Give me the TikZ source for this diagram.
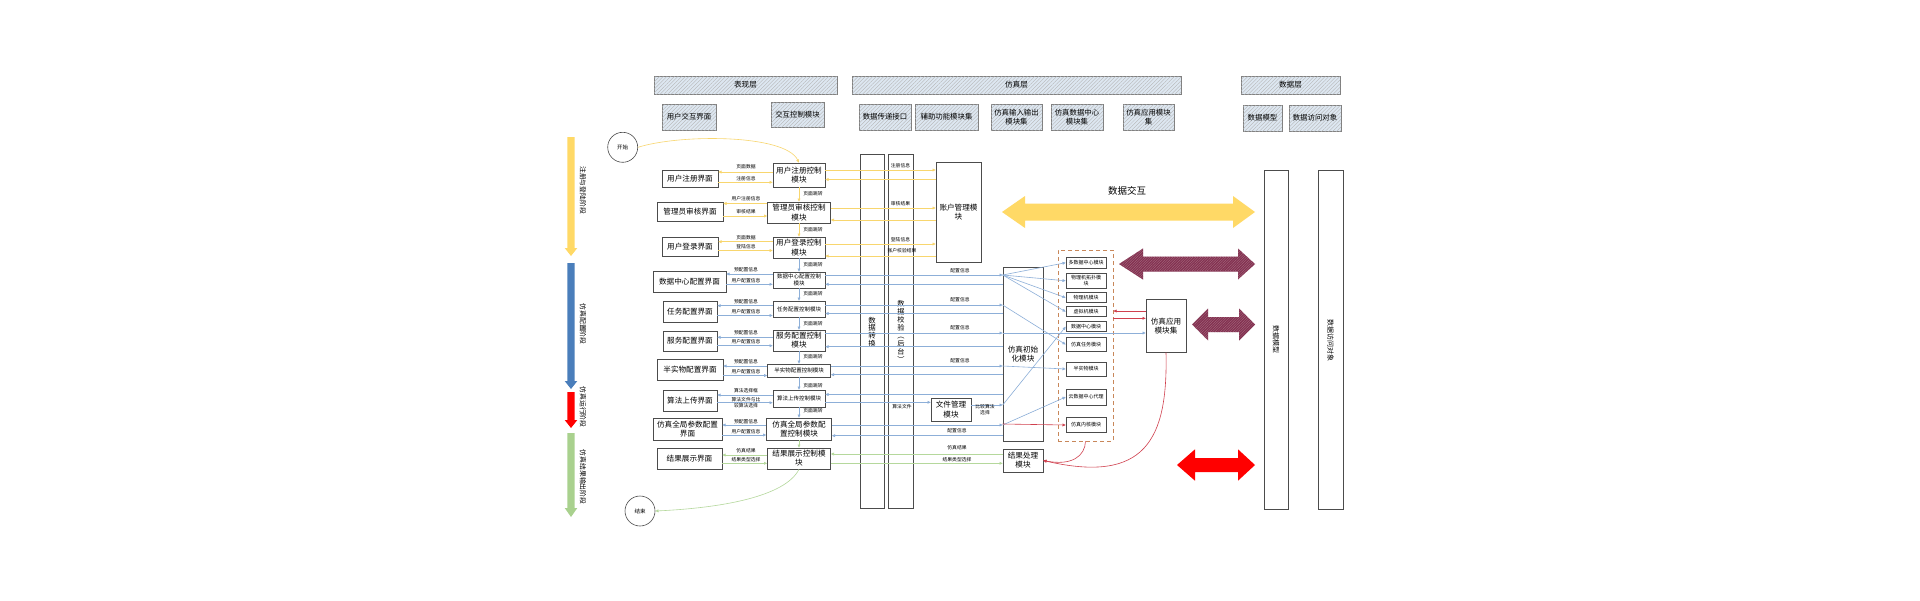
\documentclass[tikz,border=0pt]{standalone}
\usepackage{fontspec}
\setmainfont{Noto Sans CJK SC}
\usetikzlibrary{arrows.meta,patterns.meta}
\definecolor{ylc}{HTML}{FFD966}
\definecolor{yline}{HTML}{F8D66E}
\definecolor{bline}{HTML}{8DAFD8}
\definecolor{gline}{HTML}{B5D89C}
\definecolor{rline}{HTML}{D0404E}
\definecolor{marc}{HTML}{833150}
\definecolor{hdrc}{HTML}{DDE7F1}
\definecolor{dashc}{HTML}{C8875A}
\definecolor{stblue}{HTML}{4A7EBB}
\definecolor{stred}{HTML}{FF0000}
\definecolor{stgreen}{HTML}{A9D18E}
\tikzset{
  every node/.style={inner sep=0pt, align=center, font=\fontsize{7.6}{9.2}\selectfont},
  bx/.style={draw=black!70, line width=0.6pt, fill=white},
  hdr/.style={draw=black!50, line width=0.6pt, fill=hdrc,
     postaction={pattern={Lines[angle=45,distance=2.6pt,line width=0.35pt]}, pattern color=black!30}},
  lbl/.style={font=\fontsize{4.8}{6}\selectfont},
  sm/.style={font=\fontsize{5.5}{6.8}\selectfont},
  inner/.style={bx, minimum width=40, font=\fontsize{5}{6}\selectfont},
  stlbl/.style={rotate=-90, font=\fontsize{6.8}{8}\selectfont},
  yc/.style={draw=yline, line width=0.6pt},
  bc/.style={draw=bline, line width=0.6pt},
  gc/.style={draw=gline, line width=0.6pt},
  rc/.style={draw=rline, line width=0.6pt},
  arr/.style={-{Triangle[length=3.2pt,width=2.8pt]}},
  marfill/.style={fill=marc, postaction={pattern={Lines[angle=45,distance=1.8pt,line width=0.35pt]}, pattern color=marc!70!white}},
}
\begin{document}
\begin{tikzpicture}[x=1pt,y=-1pt]
\useasboundingbox (0,0) rectangle (1920,600);
\fill[white] (0,0) rectangle (1920,600);

% ---- layer headers
\node[hdr, minimum width=183, minimum height=18] (h1) at (745.5,85) {表现层};
\node[hdr, minimum width=329, minimum height=18] (h2) at (1016.5,85) {仿真层};
\node[hdr, minimum width=99, minimum height=18] (h3) at (1290.5,85) {数据层};

% ---- column headers
\begin{scope}[every node/.append style={font=\fontsize{7.4}{9}\selectfont}]
\node[hdr, minimum width=54, minimum height=26] (ch1) at (689,117) {用户交互界面};
\node[hdr, minimum width=53, minimum height=25] (ch2) at (797.5,114.5) {交互控制模块};
\node[hdr, minimum width=52, minimum height=26] (ch3) at (885,117) {数据传递接口};
\node[hdr, minimum width=63, minimum height=26] (ch4) at (946.5,117) {辅助功能模块集};
\node[hdr, minimum width=51, minimum height=26] (ch5) at (1016.5,117) {仿真输入输出\\模块集};
\node[hdr, minimum width=52, minimum height=26] (ch6) at (1077,117) {仿真数据中心\\模块集};
\node[hdr, minimum width=51, minimum height=26] (ch7) at (1148.5,117) {仿真应用模块\\集};
\node[hdr, minimum width=39, minimum height=26] (ch8) at (1262.5,118) {数据模型};
\node[hdr, minimum width=52, minimum height=26] (ch9) at (1315,118) {数据访问对象};
\end{scope}

% ---- stage arrows
\fill[ylc] (567.3,137) -- (574.7,137) -- (574.7,248) -- (577.3,248) -- (571,256) -- (564.7,248) -- (567.3,248) -- cycle;
\fill[stblue] (567.3,263) -- (574.7,263) -- (574.7,381) -- (577.3,381) -- (571,389) -- (564.7,381) -- (567.3,381) -- cycle;
\fill[stred] (567.3,392) -- (574.7,392) -- (574.7,420) -- (577.3,420) -- (571,428) -- (564.7,420) -- (567.3,420) -- cycle;
\fill[stgreen] (567.3,433) -- (574.7,433) -- (574.7,508) -- (577.3,508) -- (571,517) -- (564.7,508) -- (567.3,508) -- cycle;
\node[stlbl] (s1) at (583,190) {注册与登陆阶段};
\node[stlbl] (s2) at (583,324) {仿真配置阶段};
\node[stlbl] (s3) at (583,407) {仿真运行阶段};
\node[stlbl] (s4) at (583,477) {仿真结果输出阶段};

% ---- start / end
\node[draw=black!70, line width=0.6pt, circle, minimum size=30, font=\fontsize{5.5}{6.6}\selectfont] (start) at (622.7,147.3) {开始};
\node[draw=black!70, line width=0.6pt, circle, minimum size=30, font=\fontsize{5.5}{6.6}\selectfont] (end) at (640,511) {结束};

% ---- interface boxes
\node[bx, minimum width=56, minimum height=17] (u1) at (690,178.5) {用户注册界面};
\node[bx, minimum width=66, minimum height=19] (u2) at (690,211.5) {管理员审核界面};
\node[bx, minimum width=56, minimum height=19] (u3) at (690,246.5) {用户登录界面};
\node[bx, minimum width=73, minimum height=21] (u4) at (689.5,282) {数据中心配置界面};
\node[bx, minimum width=54, minimum height=21] (u5) at (690,311.5) {任务配置界面};
\node[bx, minimum width=54, minimum height=20] (u6) at (690,341) {服务配置界面};
\node[bx, minimum width=66, minimum height=21] (u7) at (690,369.5) {半实物配置界面};
\node[bx, minimum width=54, minimum height=21] (u8) at (690,400.5) {算法上传界面};
\node[bx, minimum width=69, minimum height=22] (u9) at (687.5,429) {仿真全局参数配置\\界面};
\node[bx, minimum width=65, minimum height=21] (u10) at (689.5,458.5) {结果展示界面};

% ---- control modules
\node[bx, minimum width=52, minimum height=24] (c1) at (799,175) {用户注册控制\\模块};
\node[bx, minimum width=63, minimum height=21] (c2) at (799,212.5) {管理员审核控制\\模块};
\node[bx, minimum width=52, minimum height=21] (c3) at (799,247.5) {用户登录控制\\模块};
\node[bx, sm, minimum width=52, minimum height=16] (c4) at (799,280) {数据中心配置控制\\模块};
\node[bx, sm, minimum width=52, minimum height=16] (c5) at (799,309) {任务配置控制模块};
\node[bx, minimum width=52, minimum height=21] (c6) at (799,340.5) {服务配置控制\\模块};
\node[bx, sm, minimum width=63, minimum height=13] (c7) at (799,370.5) {半实物配置控制模块};
\node[bx, sm, minimum width=52, minimum height=17] (c8) at (799,398.5) {算法上传控制模块};
\node[bx, minimum width=65, minimum height=22] (c9) at (799,429) {仿真全局参数配\\置控制模块};
\node[bx, minimum width=63, minimum height=21] (c10) at (799,458.5) {结果展示控制模\\块};

% ---- data transfer columns
\node[bx, minimum width=24, minimum height=354] (col1) at (872,331) {};
\node[bx, minimum width=25, minimum height=354] (col2) at (900.5,331) {};
\node[font=\fontsize{7.4}{7.8}\selectfont] (col1t) at (872,332) {数\\据\\转\\换};
\node[font=\fontsize{7.2}{8}\selectfont] (col2t) at (901,331) {数\\据\\校\\验\\︵\\后\\台\\︶};

% ---- simulation layer boxes
\node[bx, minimum width=45, minimum height=100] (acc) at (958.5,212) {账户管理模\\块};
\node[bx, minimum width=40, minimum height=23] (file) at (951,409.5) {文件管理\\模块};
\node[bx, minimum width=40, minimum height=174] (init) at (1023,354) {仿真初始\\化模块};
\node[bx, minimum width=40, minimum height=23] (res) at (1023,460.5) {结果处理\\模块};
\node[draw=dashc, line width=0.7pt, dash pattern=on 4pt off 3pt, minimum width=55, minimum height=191] (dbox) at (1085.5,345.5) {};
\node[inner, minimum height=11] (m1) at (1086,262.7) {多数据中心模块};
\node[inner, minimum height=15] (m2) at (1086,280.8) {物理机拓扑模\\块};
\node[inner, minimum height=10] (m3) at (1086,297.7) {物理机模块};
\node[inner, minimum height=10] (m4) at (1086,311.7) {虚拟机模块};
\node[inner, minimum height=10] (m5) at (1086,326.7) {数据中心模块};
\node[inner, minimum height=14] (m6) at (1086,344.5) {仿真任务模块};
\node[inner, minimum height=14] (m7) at (1086,369) {半实物模块};
\node[inner, minimum height=16] (m8) at (1086,397) {云数据中心代理};
\node[inner, minimum height=15] (m9) at (1086,425) {仿真内核模块};
\node[bx, minimum width=40, minimum height=53] (app) at (1166,325.7) {仿真应用\\模块集};

% ---- data layer columns
\node[bx, minimum width=24, minimum height=339] (dm) at (1276,339.5) {};
\node[bx, minimum width=25, minimum height=339] (dao) at (1330.5,339.5) {};
\node[rotate=-90, font=\fontsize{7}{8}\selectfont] (dmt) at (1276,339) {数据模型};
\node[rotate=-90, font=\fontsize{7}{8}\selectfont] (daot) at (1330.5,340) {数据访问对象};

% ---- big arrows
\fill[ylc] (1002,212) -- (1025,196) -- (1025,203.5) -- (1233,203.5) -- (1233,196) -- (1255,212) -- (1233,228) -- (1233,220.5) -- (1025,220.5) -- (1025,228) -- cycle;
\node[font=\fontsize{9.5}{11}\selectfont] (dx) at (1127,191) {数据交互};
\path[marfill] (1119,264) -- (1143,248.5) -- (1143,256.5) -- (1238,256.5) -- (1238,248.5) -- (1255,264) -- (1238,279.5) -- (1238,271.5) -- (1143,271.5) -- (1143,279.5) -- cycle;
\path[marfill] (1192,324.5) -- (1208,308.5) -- (1208,317) -- (1239,317) -- (1239,308.5) -- (1255,324.5) -- (1239,340.5) -- (1239,332) -- (1208,332) -- (1208,340.5) -- cycle;
\fill[stred] (1177,465) -- (1195,449.3) -- (1195,458) -- (1238,458) -- (1238,449.3) -- (1255,465) -- (1238,480.7) -- (1238,472) -- (1195,472) -- (1195,480.7) -- cycle;

% ---- start/end curves
\draw[yc, arr] (start.east) .. controls (680,134) and (785,134) .. (c1.north);
\draw[gc, arr] (c10.south) .. controls (785,497) and (720,508) .. (end.east);

% ---- vertical page jumps
\draw[yc, arr] (c1.south) -- (c2.north);
\draw[yc, arr] (c2.south) -- (c3.north);
\draw[bc, arr] (c3.south) -- (c4.north);
\draw[bc, arr] (c4.south) -- (c5.north);
\draw[bc, arr] (c5.south) -- (c6.north);
\draw[bc, arr] (c6.south) -- (c7.north);
\draw[bc, arr] (c7.south) -- (c8.north);
\draw[bc, arr] (c8.south) -- (c9.north);
\draw[gc, arr] (c9.south) -- (c10.north);
\begin{scope}[every node/.append style={lbl}]
\node (j1) at (813,193.3) {页面跳转};
\node (j2) at (813,230) {页面跳转};
\node (j3) at (813,265) {页面跳转};
\node (j4) at (813,293.3) {页面跳转};
\node (j5) at (813,324) {页面跳转};
\node (j6) at (813,356.7) {页面跳转};
\node (j7) at (813,386) {页面跳转};
\node (j8) at (813,410.7) {页面跳转};
\end{scope}

% ---- interface <-> control
\draw[yc, arr] (c1.west |- 0,172) -- (u1.east |- 0,172);
\draw[yc, arr] (u1.east |- 0,182.3) -- (c1.west |- 0,182.3);
\draw[yc, arr] (c2.west |- 0,203.5) -- (u2.east |- 0,203.5);
\draw[yc, arr] (u2.east |- 0,216) -- (c2.west |- 0,216);
\draw[yc, arr] (c3.west |- 0,241.7) -- (u3.east |- 0,241.7);
\draw[yc, arr] (u3.east |- 0,250.5) -- (c3.west |- 0,250.5);
\draw[bc, arr] (c4.west |- 0,274) -- (u4.east |- 0,274);
\draw[bc, arr] (u4.east |- 0,284.3) -- (c4.west |- 0,284.3);
\draw[bc, arr] (c5.west |- 0,305.7) -- (u5.east |- 0,305.7);
\draw[bc, arr] (u5.east |- 0,315.5) -- (c5.west |- 0,315.5);
\draw[bc, arr] (c6.west |- 0,337.3) -- (u6.east |- 0,337.3);
\draw[bc, arr] (u6.east |- 0,345.7) -- (c6.west |- 0,345.7);
\draw[bc, arr] (c7.west |- 0,366) -- (u7.east |- 0,366);
\draw[bc, arr] (u7.east |- 0,375.5) -- (c7.west |- 0,375.5);
\draw[bc, arr] (c8.west |- 0,395) -- (u8.east |- 0,395);
\draw[bc, arr] (u8.east |- 0,402.7) -- (c8.west |- 0,402.7);
\draw[bc, arr] (c9.west |- 0,425) -- (u9.east |- 0,425);
\draw[bc, arr] (u9.east |- 0,435) -- (c9.west |- 0,435);
\draw[gc, arr] (c10.west |- 0,455) -- (u10.east |- 0,455);
\draw[gc, arr] (u10.east |- 0,463.3) -- (c10.west |- 0,463.3);
\begin{scope}[every node/.append style={lbl}]
\node (a1) at (746,166.5) {页面数据};
\node (a2) at (746,178.5) {注册信息};
\node (a3) at (746,199) {用户注册信息};
\node (a4) at (746,211.7) {审核结果};
\node (a5) at (746,237.5) {页面数据};
\node (a6) at (746,246.8) {登陆信息};
\node (a7) at (746,270) {预配置信息};
\node (a8) at (746,280.5) {用户配置信息};
\node (a9) at (746,301.5) {预配置信息};
\node (a10) at (746,311.5) {用户配置信息};
\node (a11) at (746,333) {预配置信息};
\node (a12) at (746,341.8) {用户配置信息};
\node (a13) at (746,362) {预配置信息};
\node (a14) at (746,371.5) {用户配置信息};
\node (a15) at (746,391) {算法选择框};
\node (a16) at (746,402.6) {算法文件与比\\较算法选择};
\node (a17) at (746,421.3) {预配置信息};
\node (a18) at (746,431.3) {用户配置信息};
\node (a19) at (746,451) {仿真结果};
\node (a20) at (746,459.8) {结果类型选择};
\end{scope}

% ---- control -> right side
\draw[yc, arr] (c1.east |- 0,170) -- (acc.west |- 0,170);
\draw[yc, arr] (acc.west |- 0,179.5) -- (c1.east |- 0,179.5);
\draw[yc, arr] (c2.east |- 0,208) -- (acc.west |- 0,208);
\draw[yc, arr] (acc.west |- 0,220) -- (c2.east |- 0,220);
\draw[yc, arr] (c3.east |- 0,244) -- (acc.west |- 0,244);
\draw[yc, arr] (acc.west |- 0,256) -- (c3.east |- 0,256);
\draw[bc, arr] (c4.east |- 0,275) -- (init.west |- 0,275);
\draw[bc, arr] (init.west |- 0,284.3) -- (c4.east |- 0,284.3);
\draw[bc, arr] (c5.east |- 0,305) -- (init.west |- 0,305);
\draw[bc, arr] (init.west |- 0,313.5) -- (c5.east |- 0,313.5);
\draw[bc, arr] (c6.east |- 0,333) -- (init.west |- 0,333);
\draw[bc, arr] (init.west |- 0,346.7) -- (c6.east |- 0,346.7);
\draw[bc, arr] (c7.east |- 0,366) -- (init.west |- 0,366);
\draw[bc, arr] (init.west |- 0,374.7) -- (c7.east |- 0,374.7);
\draw[bc, arr] (init.west |- 0,394.5) -- (c8.east |- 0,394.5);
\draw[bc, arr] (c8.east |- 0,402.3) -- (file.west |- 0,402.3);
\draw[bc, arr] (file.east |- 0,405) -- (init.west |- 0,405);
\draw[bc, arr] (c9.east |- 0,425) -- (init.west |- 0,425);
\draw[bc, arr] (init.west |- 0,435.7) -- (c9.east |- 0,435.7);
\draw[gc, arr] (res.west |- 0,454) -- (c10.east |- 0,454);
\draw[gc, arr] (c10.east |- 0,463.3) -- (res.west |- 0,463.3);
\begin{scope}[every node/.append style={lbl}]
\node (b1) at (900.5,165.5) {注册信息};
\node (b2) at (900.5,204) {审核结果};
\node (b3) at (900.5,240) {登陆信息};
\node (b4) at (902,250.3) {账户校验结果};
\node (b5) at (960,270.7) {配置信息};
\node (b6) at (960,299.3) {配置信息};
\node (b7) at (960,327.3) {配置信息};
\node (b8) at (960,361) {配置信息};
\node (b9) at (902,406.5) {算法文件};
\node (b10) at (985,410) {比较算法\\选择};
\node (b11) at (957,430.3) {配置信息};
\node (b12) at (957,447.7) {仿真结果};
\node (b13) at (957,459.3) {结果类型选择};
\end{scope}

% ---- init -> inner modules
\draw[bc, arr] (init.west |- 0,275) -- (m1.west);
\draw[bc, arr] (init.west |- 0,275) -- (m2.west);
\draw[bc, arr] (init.west |- 0,275) -- (m3.west);
\draw[bc, arr] (init.west |- 0,275) -- (m4.west);
\draw[bc, arr] (init.west |- 0,305) -- (m6.west);
\draw[bc, arr] (init.west |- 0,333) -- (app.west |- 0,333);
\draw[bc, arr] (init.west |- 0,366) -- (m7.west);
\draw[bc, arr] (init.west |- 0,405) -- (m5.west);
\draw[bc, arr] (init.west |- 0,425) -- (m8.west);
\draw[rc, arr] (init.west |- 0,424) -- (m9.west);

% ---- application module links
\draw[rc, arr] (app.west |- 0,311) -- (dbox.east |- 0,311);
\draw[rc, arr] (dbox.east |- 0,318.3) -- (app.west |- 0,318.3);
\draw[rc, arr] (app.south) .. controls (1168,440) and (1145,484) .. (res.east);
\draw[rc, arr] (dbox.south) .. controls (1085,456) and (1072,466) .. (res.east);
\end{tikzpicture}
\end{document}
